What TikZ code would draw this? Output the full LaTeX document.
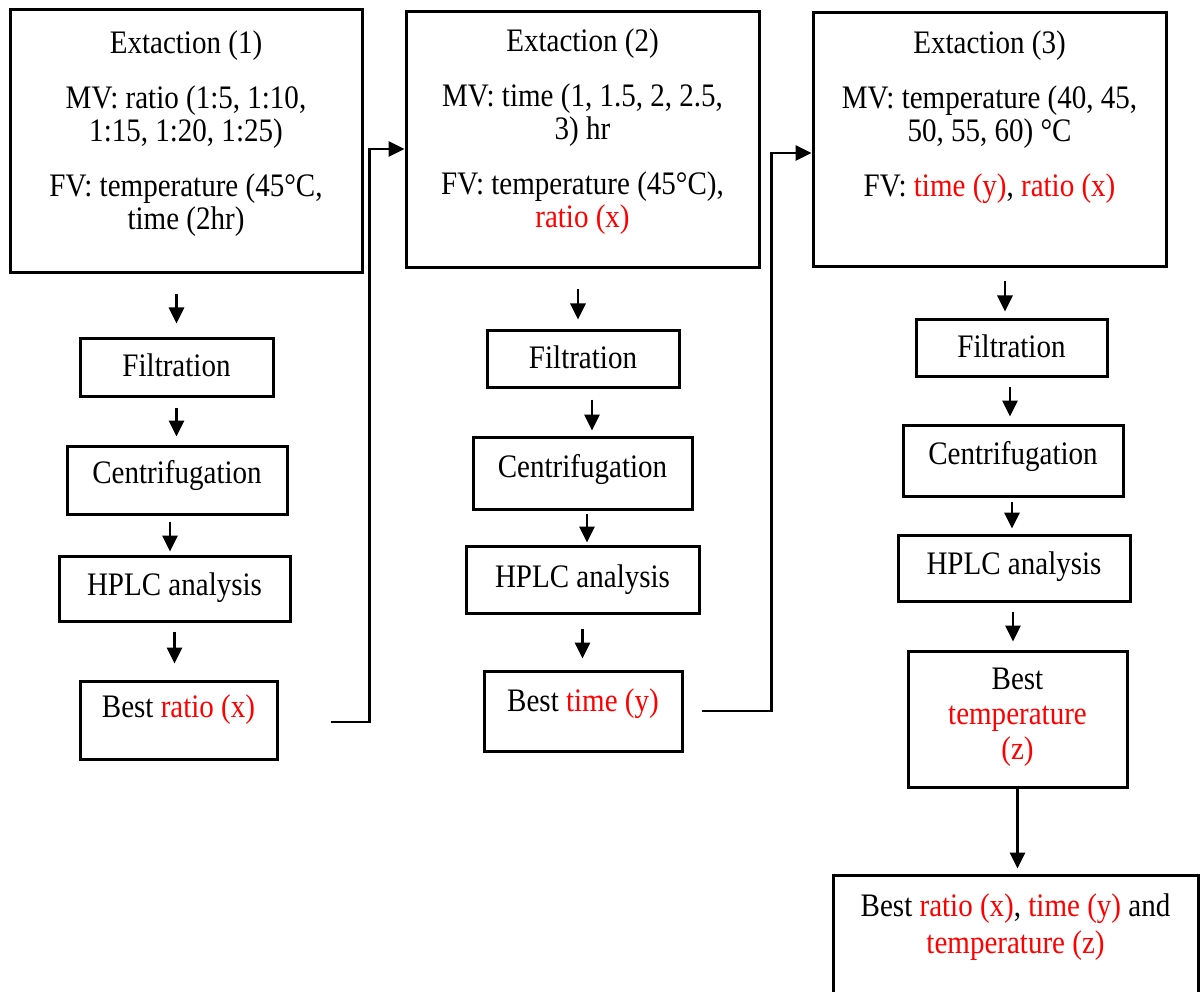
\documentclass[tikz,border=0pt]{standalone}
\usepackage{fontspec}
\setmainfont{Liberation Serif}[FakeStretch=0.885]
\usetikzlibrary{arrows.meta}

\tikzset{
  box/.style={draw, line width=3pt, fill=white, inner sep=0pt},
  txt/.style={font=\fontsize{32.8}{33}\selectfont, align=center, inner sep=0pt, anchor=base},
  arr/.style={line width=2.8pt, -{Triangle[length=16pt,width=15pt]}}
}
\newcommand{\hl}[1]{\textcolor{red}{#1}}

\begin{document}
\begin{tikzpicture}[x=1pt,y=-1pt]
\clip (0,0) rectangle (1200,992);
\fill[white] (0,0) rectangle (1200,992);

% first extraction (text nodes sit on their last line)
\node[box, minimum width=352pt, minimum height=263pt] (ext1) at (186,141.5) {};
\node[txt] (ext1text) at (186,230) {Extaction (1)\\[22pt]
  MV: ratio (1:5, 1:10,\\ 1:15, 1:20, 1:25)\\[22pt]
  FV: temperature (45\textdegree C,\\ time (2hr)};
\node[box, minimum width=193pt, minimum height=57pt] (fil1) at (176.5,367.5) {};
\node[txt] (fil1text) at (176.5,377) {Filtration};
\node[box, minimum width=220pt, minimum height=68pt] (cen1) at (177,480) {};
\node[txt] (cen1text) at (177,483) {Centrifugation};
\node[box, minimum width=231pt, minimum height=65pt] (hplc1) at (174.5,588.5) {};
\node[txt] (hplc1text) at (174.5,595) {HPLC analysis};
\node[box, minimum width=197pt, minimum height=78pt] (best1) at (178.5,720) {};
\node[txt] (best1text) at (178.5,717) {Best \hl{ratio (x)}};

% second extraction
\node[box, minimum width=353pt, minimum height=256pt] (ext2) at (582.5,140) {};
\node[txt] (ext2text) at (582.5,228) {Extaction (2)\\[22pt]
  MV: time (1, 1.5, 2, 2.5,\\ 3) hr\\[22pt]
  FV: temperature (45\textdegree C),\\ \hl{ratio (x)}};
\node[box, minimum width=192pt, minimum height=57pt] (fil2) at (583,359.5) {};
\node[txt] (fil2text) at (583,369) {Filtration};
\node[box, minimum width=219pt, minimum height=72pt] (cen2) at (582.5,473) {};
\node[txt] (cen2text) at (582.5,477) {Centrifugation};
\node[box, minimum width=233pt, minimum height=67pt] (hplc2) at (582.5,579.5) {};
\node[txt] (hplc2text) at (582.5,587) {HPLC analysis};
\node[box, minimum width=198pt, minimum height=80pt] (best2) at (583,711) {};
\node[txt] (best2text) at (583,711) {Best \hl{time (y)}};

% third extraction
\node[box, minimum width=353pt, minimum height=254pt] (ext3) at (989.5,140) {};
\node[txt] (ext3text) at (989.5,197) {Extaction (3)\\[22pt]
  MV: temperature (40, 45,\\ 50, 55, 60) \textdegree C\\[22pt]
  FV: \hl{time (y)}, \hl{ratio (x)}};
\node[box, minimum width=191pt, minimum height=57pt] (fil3) at (1011.5,348.5) {};
\node[txt] (fil3text) at (1011.5,358) {Filtration};
\node[box, minimum width=220pt, minimum height=71pt] (cen3) at (1013,460.5) {};
\node[txt] (cen3text) at (1013,464) {Centrifugation};
\node[box, minimum width=232pt, minimum height=66pt] (hplc3) at (1014,568) {};
\node[txt] (hplc3text) at (1014,574) {HPLC analysis};
\node[box, minimum width=219pt, minimum height=136pt] (best3) at (1017.5,719) {};
\node[txt] (best3text) at (1017.5,759) {Best\\[2pt] \hl{temperature}\\[2pt] \hl{(z)}};

% overall result
\node[box, minimum width=365pt, minimum height=135pt] (final) at (1015.5,942.5) {};
\node[txt] (finaltext) at (1015.5,953) {Best \hl{ratio (x)}, \hl{time (y)} and\\[4pt] \hl{temperature (z)}};

% steps inside each column
\draw[arr, shorten <=20pt, shorten >=14pt] (ext1.south -| fil1.north) -- (fil1.north);
\draw[arr, shorten <=10pt, shorten >=8pt] (fil1.south) -- (fil1.south |- cen1.north);
\draw[arr, shorten <=6pt, shorten >=3pt] ([xshift=-7pt]cen1.south) -- ([xshift=-7pt]cen1.south |- hplc1.north);
\draw[arr, shorten <=9pt, shorten >=16pt] (hplc1.south) -- (hplc1.south |- best1.north);

\draw[arr, shorten <=20pt, shorten >=10pt] ([xshift=-5pt]ext2.south -| fil2.north) -- ([xshift=-5pt]fil2.north);
\draw[arr, shorten <=10pt, shorten >=5pt] ([xshift=9pt]fil2.south) -- ([xshift=9pt]fil2.south |- cen2.north);
\draw[arr, shorten <=3pt, shorten >=2pt] ([xshift=4.5pt]cen2.south) -- ([xshift=4.5pt]cen2.south |- hplc2.north);
\draw[arr, shorten <=14pt, shorten >=11pt] (hplc2.south) -- (hplc2.south |- best2.north);

\draw[arr, shorten <=13pt, shorten >=7pt] ([xshift=-6.5pt]ext3.south -| fil3.north) -- ([xshift=-6.5pt]fil3.north);
\draw[arr, shorten <=9pt, shorten >=7pt] ([xshift=-1.5pt]fil3.south) -- ([xshift=-1.5pt]fil3.south |- cen3.north);
\draw[arr, shorten <=4pt, shorten >=5pt] ([xshift=-1pt]cen3.south) -- ([xshift=-1pt]cen3.south |- hplc3.north);
\draw[arr, shorten <=9pt, shorten >=8pt] ([xshift=-1pt]hplc3.south) -- ([xshift=-1pt]hplc3.south |- best3.north);

\draw[arr, shorten >=5pt] (best3.south) -- (best3.south |- final.north);

% carry the best value to the next extraction
\coordinate (out1) at ([xshift=52pt,yshift=-2pt]best1.east);
\draw[arr] (out1) -| ([xshift=-35pt,yshift=-9pt]ext2.west) -- ([yshift=-9pt]ext2.west);
\coordinate (out2) at ([xshift=18pt]best2.east);
\draw[arr] (out2) -| ([xshift=-40pt,yshift=-13pt]ext3.west) -- ([yshift=-13pt]ext3.west);
\end{tikzpicture}
\end{document}
